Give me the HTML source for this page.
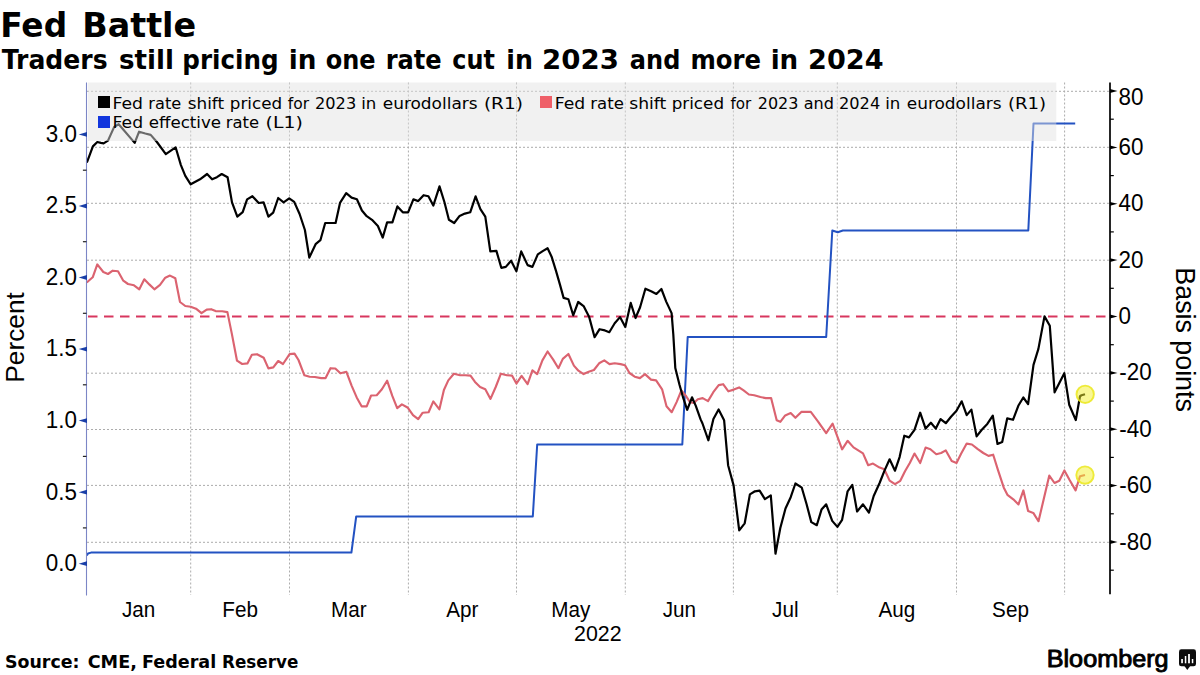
<!DOCTYPE html><html><head><meta charset="utf-8"><title>Fed Battle</title><style>html,body{margin:0;padding:0;background:#fff;overflow:hidden}svg{display:block}</style></head><body>
<svg width="1200" height="675" viewBox="0 0 1200 675">
<rect width="1200" height="675" fill="#fff"/>
<g font-family="'DejaVu Sans', sans-serif" font-size="33.6" font-weight="700" fill="#000"><text transform="matrix(0.9778,0,0,1,0.27,0)" x="0" y="36.7">Fed</text><text transform="matrix(0.9936,0,0,1,82.22,0)" x="0" y="36.7">Battle</text></g>
<g font-family="'DejaVu Sans', sans-serif" font-size="25.8" font-weight="700" fill="#000"><text transform="matrix(0.9722,0,0,1,1.70,0)" x="0" y="69.0">Traders</text><text transform="matrix(1.0137,0,0,1,118.99,0)" x="0" y="69.0">still</text><text transform="matrix(0.9536,0,0,1,182.29,0)" x="0" y="69.0">pricing</text><text transform="matrix(1.0174,0,0,1,288.77,0)" x="0" y="69.0">in</text><text transform="matrix(0.9314,0,0,1,325.77,0)" x="0" y="69.0">one</text><text transform="matrix(0.9351,0,0,1,385.63,0)" x="0" y="69.0">rate</text><text transform="matrix(0.9267,0,0,1,452.37,0)" x="0" y="69.0">cut</text><text transform="matrix(0.9783,0,0,1,506.34,0)" x="0" y="69.0">in</text><text transform="matrix(1.0706,0,0,1,542.06,0)" x="0" y="69.0">2023</text><text transform="matrix(0.9314,0,0,1,629.87,0)" x="0" y="69.0">and</text><text transform="matrix(0.9431,0,0,1,690.41,0)" x="0" y="69.0">more</text><text transform="matrix(1.0130,0,0,1,770.67,0)" x="0" y="69.0">in</text><text transform="matrix(1.0507,0,0,1,808.10,0)" x="0" y="69.0">2024</text></g>
<g stroke="#acacac" stroke-width="1" stroke-dasharray="2 2"><line x1="87.0" y1="91.3" x2="1109" y2="91.3"/><line x1="87.0" y1="147.3" x2="1109" y2="147.3"/><line x1="87.0" y1="203.3" x2="1109" y2="203.3"/><line x1="87.0" y1="260.2" x2="1109" y2="260.2"/><line x1="87.0" y1="373.2" x2="1109" y2="373.2"/><line x1="87.0" y1="429.5" x2="1109" y2="429.5"/><line x1="87.0" y1="485.4" x2="1109" y2="485.4"/><line x1="87.0" y1="542.3" x2="1109" y2="542.3"/><line x1="190.7" y1="82.5" x2="190.7" y2="595"/><line x1="289.5" y1="82.5" x2="289.5" y2="595"/><line x1="408.4" y1="82.5" x2="408.4" y2="595"/><line x1="516.5" y1="82.5" x2="516.5" y2="595"/><line x1="625.3" y1="82.5" x2="625.3" y2="595"/><line x1="733.4" y1="82.5" x2="733.4" y2="595"/><line x1="837.3" y1="82.5" x2="837.3" y2="595"/><line x1="956.5" y1="82.5" x2="956.5" y2="595"/><line x1="1064.6" y1="82.5" x2="1064.6" y2="595"/></g>
<line x1="88" y1="316.5" x2="1108" y2="316.5" stroke="#d8365e" stroke-width="2.2" stroke-dasharray="9.5 6.5"/>
<polyline points="86.8,555.5 88.0,553.5 91.0,552.6 351.4,552.6 356.2,516.5 532.8,516.5 537.2,444.5 682.3,444.5 687.7,337.0 826.2,337.0 832.3,230.5 837.7,232.3 842.9,230.5 1028.3,230.5 1033.5,123.5 1075.2,123.5" fill="none" stroke="#2352c2" stroke-width="2.0" stroke-linejoin="round"/>
<polyline points="86.8,282.5 87.3,282.0 92.7,277.3 97.3,264.4 103.3,272.0 108.0,274.0 112.7,270.7 118.0,271.3 123.3,280.7 128.0,284.0 134.0,285.3 139.3,289.3 144.3,279.3 149.3,284.4 154.4,289.3 160.0,284.9 165.3,277.7 170.0,275.6 175.3,278.3 180.0,302.0 185.3,306.0 190.7,306.7 196.0,308.7 201.5,313.2 206.7,309.6 211.1,309.2 215.6,311.1 222.2,311.3 227.4,312.1 231.9,334.1 237.0,360.7 242.2,364.0 247.4,363.4 251.9,354.8 257.0,354.2 263.7,357.8 268.4,368.4 273.3,367.4 278.2,361.0 283.0,364.0 289.6,354.1 294.5,353.6 298.5,360.0 304.4,375.3 309.6,376.7 314.8,377.0 321.2,378.1 325.6,378.1 330.5,368.2 335.3,368.5 340.4,373.3 346.4,371.8 351.6,385.6 356.7,397.4 361.6,406.3 366.7,406.3 371.1,395.5 376.7,395.2 381.9,389.3 387.1,380.7 392.3,395.9 397.2,408.2 401.9,404.4 407.9,407.8 413.0,415.2 418.2,419.2 422.7,412.7 428.6,412.2 433.3,401.4 439.4,409.3 443.9,390.0 448.3,380.4 453.9,373.7 460.1,375.2 465.3,375.2 470.5,375.6 475.0,381.9 480.1,387.0 485.3,389.3 490.5,398.9 495.7,387.0 500.9,373.7 506.8,375.2 512.0,375.6 516.4,383.6 521.6,375.9 527.6,384.1 532.4,370.3 537.2,374.1 542.4,360.4 547.6,351.5 553.2,359.6 558.4,368.2 562.8,358.9 568.4,354.0 573.9,365.6 578.4,370.7 583.6,374.1 588.7,371.8 593.9,370.0 599.1,363.3 604.3,360.4 609.5,364.1 614.7,363.3 620.6,364.1 625.0,365.3 629.5,373.0 634.7,376.7 639.9,378.1 645.0,374.1 651.0,379.6 656.1,380.4 662.1,389.3 666.5,406.3 671.7,412.2 676.6,402.1 681.4,390.5 686.2,396.3 690.0,402.1 693.9,403.0 697.8,399.2 702.7,398.1 708.0,401.1 713.3,392.2 718.7,385.1 723.1,384.2 728.4,391.3 733.8,389.6 739.1,387.4 743.6,390.4 748.9,394.5 754.2,395.2 760.4,397.0 765.8,398.1 771.1,398.1 776.7,420.2 780.3,421.8 785.2,415.4 790.7,413.0 795.4,417.8 801.3,411.9 810.8,411.9 817.9,421.3 826.2,433.2 832.6,423.7 842.1,449.3 847.6,440.8 853.5,447.4 863.0,453.4 868.2,465.2 873.0,463.6 878.4,466.9 884.3,469.2 889.6,480.6 895.0,484.2 900.3,480.8 905.0,471.3 909.8,463.0 914.5,453.5 920.2,463.0 925.6,447.6 930.4,449.2 936.3,454.2 941.1,453.0 945.8,450.4 951.7,461.1 956.5,463.0 961.2,453.5 966.7,443.6 971.9,444.5 977.8,449.2 983.3,453.0 988.5,455.9 993.2,454.7 998.0,470.1 1003.7,487.4 1007.4,494.8 1013.3,499.3 1018.5,504.4 1023.4,490.4 1028.1,511.1 1033.3,512.9 1038.5,521.2 1043.7,499.3 1049.3,475.6 1054.5,483.0 1059.3,480.7 1064.4,470.4 1069.6,480.0 1075.6,490.4 1080.0,476.3 1085.0,475.0" fill="none" stroke="#db6370" stroke-width="2.15" stroke-linejoin="round"/>
<polyline points="86.8,162.5 87.2,161.6 92.9,146.4 97.3,142.0 100.9,142.9 103.6,143.4 108.0,140.6 114.2,126.9 118.7,124.2 134.7,142.9 139.1,131.7 145.3,133.5 150.7,134.9 156.9,142.0 165.8,154.1 175.6,147.3 180.9,165.1 185.3,175.8 190.7,184.3 200.0,179.3 207.1,174.0 212.1,179.3 216.9,177.2 221.7,174.0 227.6,177.2 232.0,202.4 237.3,216.7 242.7,212.2 247.1,199.4 252.4,196.2 258.7,203.0 263.6,202.4 268.4,216.7 273.2,212.6 278.2,198.0 283.6,202.4 289.2,198.4 294.2,201.9 299.6,214.0 304.9,230.0 309.3,257.6 315.6,244.2 320.4,240.2 325.2,223.0 335.6,223.0 340.0,202.9 346.2,193.1 351.6,197.6 356.9,199.3 361.9,210.5 366.7,216.2 372.0,219.8 377.9,226.0 382.7,237.6 387.1,222.4 392.4,222.4 397.4,206.4 402.8,212.3 408.1,212.3 413.4,199.3 418.2,201.1 423.6,195.2 428.4,196.3 433.3,205.6 439.5,186.4 444.4,202.0 448.9,219.8 454.2,223.0 459.6,215.9 464.9,213.6 470.2,212.3 475.6,196.3 480.4,209.1 485.3,216.6 490.3,251.4 496.4,250.9 501.3,267.8 505.8,266.9 511.1,260.7 516.4,271.3 521.2,251.4 527.6,265.1 532.4,266.9 537.8,254.4 543.1,250.9 547.6,248.2 551.6,256.7 556.0,270.9 560.1,285.1 563.6,297.9 568.4,299.3 573.2,315.3 578.2,302.0 583.6,306.1 589.2,317.1 594.6,337.2 599.6,329.2 604.9,330.4 609.3,332.2 614.7,323.3 620.0,317.1 625.3,326.9 630.7,302.9 635.5,318.0 640.1,307.3 645.4,288.7 651.1,291.3 656.4,294.0 661.4,289.0 666.2,301.6 671.6,313.1 673.3,334.4 675.3,368.0 679.5,384.7 683.3,398.2 687.2,409.8 692.0,397.3 695.8,405.9 700.6,419.4 702.5,423.5 708.4,440.3 713.4,419.0 718.6,409.5 724.1,420.2 728.1,465.2 733.6,485.4 739.2,530.4 744.7,523.3 749.9,494.4 754.9,491.3 759.6,490.6 764.9,499.1 770.8,495.3 775.5,553.7 780.3,528.0 785.5,508.5 790.7,497.2 795.4,483.5 801.8,487.7 806.6,504.3 811.3,522.1 816.8,525.2 821.5,509.6 826.2,504.3 832.2,520.9 837.4,526.9 842.1,519.8 847.6,491.3 852.3,484.9 857.1,511.5 863.0,504.3 868.9,512.6 873.7,496.0 879.6,483.0 884.3,471.1 889.6,459.3 895.0,470.7 899.6,457.1 904.3,435.7 909.0,437.4 914.5,429.8 920.2,412.7 925.6,428.6 930.9,422.7 935.8,428.6 940.6,419.1 945.8,423.2 951.0,416.8 956.5,410.8 961.7,401.3 966.7,415.1 971.4,409.6 976.6,436.4 981.8,429.8 987.3,423.9 992.8,415.6 997.5,444.0 1002.2,442.1 1007.2,418.4 1013.0,419.8 1018.3,405.8 1023.3,397.5 1028.1,404.1 1033.5,364.9 1038.4,348.9 1044.5,316.4 1049.8,325.8 1054.6,392.3 1064.3,373.2 1069.2,404.7 1075.8,420.1 1080.0,396.2 1081.5,395.3 1085.0,394.2" fill="none" stroke="#000" stroke-width="2.2" stroke-linejoin="round"/>
<rect x="88" y="82.5" width="968.3" height="58.5" fill="#e1e1e1" fill-opacity="0.47"/>
<rect x="98" y="96" width="12" height="12" fill="#000"/>
<rect x="540" y="96" width="12" height="12" fill="#ef5f68"/>
<rect x="98" y="116" width="12" height="12" fill="#1236dd"/>
<g font-family="'DejaVu Sans', sans-serif" font-size="16.6" font-weight="400" fill="#000"><text transform="matrix(1.0385,0,0,1,112.42,0)" x="0" y="108.6">Fed</text><text transform="matrix(0.9750,0,0,1,148.33,0)" x="0" y="108.6">rate</text><text transform="matrix(1.0147,0,0,1,187.74,0)" x="0" y="108.6">shift</text><text transform="matrix(1.0102,0,0,1,229.74,0)" x="0" y="108.6">priced</text><text transform="matrix(0.9326,0,0,1,287.80,0)" x="0" y="108.6">for</text><text transform="matrix(0.9750,0,0,1,315.02,0)" x="0" y="108.6">2023</text><text transform="matrix(1.0000,0,0,1,361.25,0)" x="0" y="108.6">in</text><text transform="matrix(1.0220,0,0,1,382.73,0)" x="0" y="108.6">eurodollars</text><text transform="matrix(1.1136,0,0,1,483.89,0)" x="0" y="108.6">(R1)</text><text transform="matrix(1.0385,0,0,1,554.67,0)" x="0" y="108.6">Fed</text><text transform="matrix(0.9984,0,0,1,590.25,0)" x="0" y="108.6">rate</text><text transform="matrix(1.0368,0,0,1,629.21,0)" x="0" y="108.6">shift</text><text transform="matrix(1.0102,0,0,1,671.69,0)" x="0" y="108.6">priced</text><text transform="matrix(0.9130,0,0,1,730.50,0)" x="0" y="108.6">for</text><text transform="matrix(0.9637,0,0,1,757.74,0)" x="0" y="108.6">2023</text><text transform="matrix(0.9672,0,0,1,803.78,0)" x="0" y="108.6">and</text><text transform="matrix(0.9750,0,0,1,839.02,0)" x="0" y="108.6">2024</text><text transform="matrix(1.0000,0,0,1,885.20,0)" x="0" y="108.6">in</text><text transform="matrix(1.0220,0,0,1,906.73,0)" x="0" y="108.6">eurodollars</text><text transform="matrix(1.0909,0,0,1,1007.91,0)" x="0" y="108.6">(R1)</text></g>
<g font-family="'DejaVu Sans', sans-serif" font-size="16.6" font-weight="400" fill="#000"><text transform="matrix(1.0385,0,0,1,112.62,0)" x="0" y="128.4">Fed</text><text transform="matrix(1.0043,0,0,1,148.70,0)" x="0" y="128.4">effective</text><text transform="matrix(0.9875,0,0,1,225.71,0)" x="0" y="128.4">rate</text><text transform="matrix(1.1367,0,0,1,265.56,0)" x="0" y="128.4">(L1)</text></g>
<line x1="86.5" y1="82.5" x2="86.5" y2="595.5" stroke="#7c86c6" stroke-width="1.1"/>
<path d="M87.0,561.3 L78.7,563.7 L87.0,566.1 Z" fill="#1a3fa8"/><line x1="82.9" y1="527.9" x2="86.5" y2="527.9" stroke="#222" stroke-width="1.2"/><path d="M87.0,489.8 L78.7,492.2 L87.0,494.6 Z" fill="#1a3fa8"/><line x1="82.9" y1="456.4" x2="86.5" y2="456.4" stroke="#222" stroke-width="1.2"/><path d="M87.0,418.2 L78.7,420.6 L87.0,423.0 Z" fill="#1a3fa8"/><line x1="82.9" y1="384.8" x2="86.5" y2="384.8" stroke="#222" stroke-width="1.2"/><path d="M87.0,346.7 L78.7,349.1 L87.0,351.5 Z" fill="#1a3fa8"/><line x1="82.9" y1="313.3" x2="86.5" y2="313.3" stroke="#222" stroke-width="1.2"/><path d="M87.0,275.1 L78.7,277.5 L87.0,279.9 Z" fill="#1a3fa8"/><line x1="82.9" y1="241.7" x2="86.5" y2="241.7" stroke="#222" stroke-width="1.2"/><path d="M87.0,203.6 L78.7,206.0 L87.0,208.4 Z" fill="#1a3fa8"/><line x1="82.9" y1="170.2" x2="86.5" y2="170.2" stroke="#222" stroke-width="1.2"/><path d="M87.0,132.0 L78.7,134.4 L87.0,136.8 Z" fill="#1a3fa8"/>
<g font-family="'Liberation Sans', sans-serif" font-size="23.0" fill="#000" text-anchor="end">
<text transform="matrix(0.975,0,0,1,77.0,0)" x="0" y="571.1">0.0</text>
<text transform="matrix(0.975,0,0,1,77.0,0)" x="0" y="499.6">0.5</text>
<text transform="matrix(0.975,0,0,1,77.0,0)" x="0" y="428.0">1.0</text>
<text transform="matrix(0.975,0,0,1,77.0,0)" x="0" y="356.5">1.5</text>
<text transform="matrix(0.975,0,0,1,77.0,0)" x="0" y="284.9">2.0</text>
<text transform="matrix(0.975,0,0,1,77.0,0)" x="0" y="213.4">2.5</text>
<text transform="matrix(0.975,0,0,1,77.0,0)" x="0" y="141.8">3.0</text>
</g>
<line x1="1110" y1="82.5" x2="1110" y2="594.3" stroke="#000" stroke-width="1.7"/>
<path d="M1110,89.1 L1117.5,91.0 L1110,92.9 Z" fill="#000"/><line x1="1110" y1="119.2" x2="1113.8" y2="119.2" stroke="#000" stroke-width="1.2"/><path d="M1110,145.5 L1117.5,147.4 L1110,149.3 Z" fill="#000"/><line x1="1110" y1="175.6" x2="1113.8" y2="175.6" stroke="#000" stroke-width="1.2"/><path d="M1110,201.9 L1117.5,203.8 L1110,205.7 Z" fill="#000"/><line x1="1110" y1="231.9" x2="1113.8" y2="231.9" stroke="#000" stroke-width="1.2"/><path d="M1110,258.2 L1117.5,260.1 L1110,262.0 Z" fill="#000"/><line x1="1110" y1="288.3" x2="1113.8" y2="288.3" stroke="#000" stroke-width="1.2"/><path d="M1110,314.6 L1117.5,316.5 L1110,318.4 Z" fill="#000"/><line x1="1110" y1="344.7" x2="1113.8" y2="344.7" stroke="#000" stroke-width="1.2"/><path d="M1110,371.0 L1117.5,372.9 L1110,374.8 Z" fill="#000"/><line x1="1110" y1="401.1" x2="1113.8" y2="401.1" stroke="#000" stroke-width="1.2"/><path d="M1110,427.3 L1117.5,429.2 L1110,431.1 Z" fill="#000"/><line x1="1110" y1="457.4" x2="1113.8" y2="457.4" stroke="#000" stroke-width="1.2"/><path d="M1110,483.7 L1117.5,485.6 L1110,487.5 Z" fill="#000"/><line x1="1110" y1="513.8" x2="1113.8" y2="513.8" stroke="#000" stroke-width="1.2"/><path d="M1110,540.1 L1117.5,542.0 L1110,543.9 Z" fill="#000"/><line x1="1110" y1="570.2" x2="1113.8" y2="570.2" stroke="#000" stroke-width="1.2"/>
<g font-family="'Liberation Sans', sans-serif" font-size="23.0" fill="#000">
<text transform="matrix(0.975,0,0,1,1118.6,0)" x="0" y="105.3">80</text>
<text transform="matrix(0.975,0,0,1,1118.6,0)" x="0" y="155.0">60</text>
<text transform="matrix(0.975,0,0,1,1118.6,0)" x="0" y="211.4">40</text>
<text transform="matrix(0.975,0,0,1,1118.6,0)" x="0" y="267.7">20</text>
<text transform="matrix(0.975,0,0,1,1118.6,0)" x="0" y="324.1">0</text>
<text transform="matrix(0.975,0,0,1,1119.3,0)" x="0" y="380.5">-20</text>
<text transform="matrix(0.975,0,0,1,1119.3,0)" x="0" y="436.8">-40</text>
<text transform="matrix(0.975,0,0,1,1119.3,0)" x="0" y="493.2">-60</text>
<text transform="matrix(0.975,0,0,1,1119.3,0)" x="0" y="549.6">-80</text>
</g>
<text transform="translate(24.2,337.4) rotate(-90)" text-anchor="middle" font-family="'Liberation Sans', sans-serif" font-size="26.3" fill="#000">Percent</text>
<text transform="translate(1175.9,339.6) rotate(90)" text-anchor="middle" font-family="'Liberation Sans', sans-serif" font-size="26.8" fill="#000">Basis points</text>
<g font-family="'Liberation Sans', sans-serif" font-size="22.6" fill="#000" text-anchor="middle">
<text transform="matrix(0.915,0,0,1,138.6,0)" x="0" y="616.8">Jan</text>
<text transform="matrix(0.915,0,0,1,240.1,0)" x="0" y="616.8">Feb</text>
<text transform="matrix(0.915,0,0,1,348.9,0)" x="0" y="616.8">Mar</text>
<text transform="matrix(0.915,0,0,1,462.4,0)" x="0" y="616.8">Apr</text>
<text transform="matrix(0.915,0,0,1,570.9,0)" x="0" y="616.8">May</text>
<text transform="matrix(0.915,0,0,1,679.3,0)" x="0" y="616.8">Jun</text>
<text transform="matrix(0.915,0,0,1,785.3,0)" x="0" y="616.8">Jul</text>
<text transform="matrix(0.915,0,0,1,896.9,0)" x="0" y="616.8">Aug</text>
<text transform="matrix(0.915,0,0,1,1010.5,0)" x="0" y="616.8">Sep</text>
</g>
<text transform="matrix(0.9583,0,0,1,574.04,0)" x="0" y="641.3" font-family="'Liberation Sans', sans-serif" font-size="22.3" font-weight="400" fill="#000">2022</text>
<circle cx="1085.2" cy="394.3" r="8.7" fill="#f3ef2c" fill-opacity="0.5" stroke="#ebe71e" stroke-width="1.9" stroke-opacity="0.85"/>
<circle cx="1085" cy="475.1" r="8.7" fill="#f3ef2c" fill-opacity="0.5" stroke="#ebe71e" stroke-width="1.9" stroke-opacity="0.85"/>
<g font-family="'DejaVu Sans', sans-serif" font-size="17.4" font-weight="700" fill="#000"><text transform="matrix(1.0000,0,0,1,5.00,0)" x="0" y="667.8">Source:</text><text transform="matrix(1.0130,0,0,1,87.69,0)" x="0" y="667.8">CME,</text><text transform="matrix(1.0100,0,0,1,141.98,0)" x="0" y="667.8">Federal</text><text transform="matrix(0.9645,0,0,1,222.07,0)" x="0" y="667.8">Reserve</text></g>
<text transform="matrix(1.0513,0,0,1,1046.70,0)" x="0" y="666.8" font-family="'Liberation Sans', sans-serif" font-size="24.0" font-weight="400" fill="#000" stroke="#000" stroke-width="0.9" stroke-linejoin="round">Bloomberg</text>
<g><rect x="1179" y="649.3" width="17" height="17" rx="2.4" fill="#0c0c0c"/><path d="M1184.4,666 L1187.3,670 L1190.2,666 Z" fill="#0c0c0c"/><rect x="1181.2" y="659" width="1.7" height="4.2" fill="#fff"/><rect x="1184.8" y="656" width="1.5" height="7.3" fill="#fff"/><rect x="1188.1" y="654" width="1.8" height="9.3" fill="#fff"/><rect x="1191.8" y="659" width="1.5" height="4.2" fill="#fff"/></g>
</svg></body></html>
